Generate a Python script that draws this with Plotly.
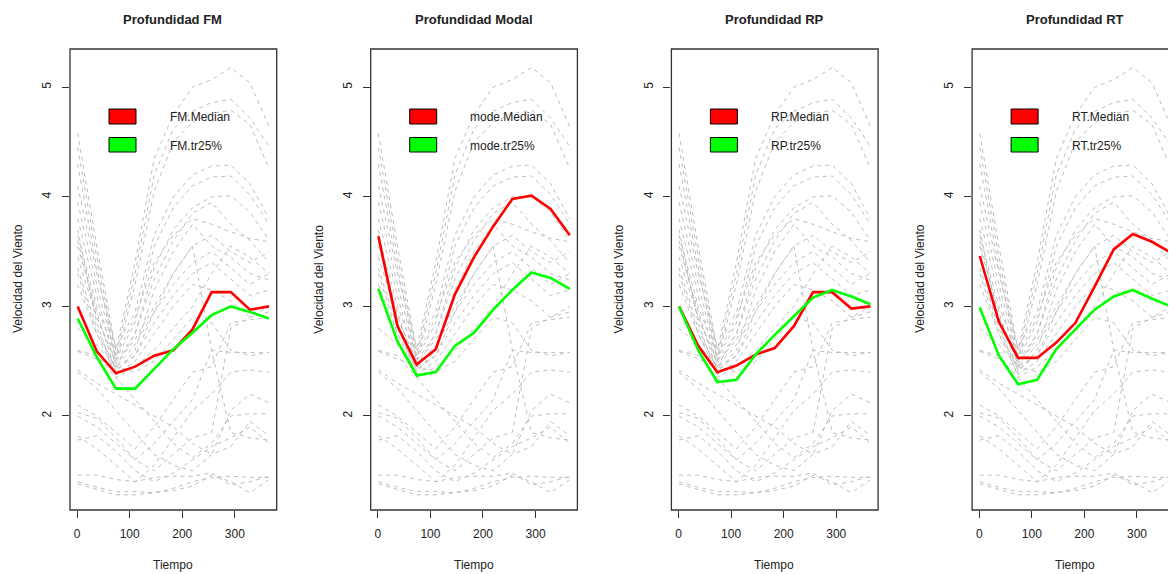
import plotly.graph_objects as go

# ---------------- data ----------------
tiempo = [1, 37.4, 73.8, 110.2, 146.6, 183.0, 219.4, 255.8, 292.2, 328.6, 365.0]

curvas_gris = [
    [4.58, 3.55, 2.60, 3.40, 4.35, 4.75, 5.00, 5.07, 5.18, 5.04, 4.64],
    [4.45, 3.45, 2.55, 3.30, 4.20, 4.62, 4.78, 4.86, 4.89, 4.72, 4.46],
    [4.30, 3.35, 2.50, 3.20, 4.05, 4.50, 4.68, 4.76, 4.79, 4.66, 4.26],
    [4.10, 3.30, 2.62, 2.95, 3.65, 4.00, 4.20, 4.28, 4.29, 4.12, 3.80],
    [3.95, 3.20, 2.52, 2.85, 3.55, 3.90, 4.10, 4.18, 4.19, 4.02, 3.75],
    [3.80, 3.10, 2.45, 2.75, 3.35, 3.70, 3.90, 4.00, 4.01, 3.86, 3.60],
    [3.65, 3.00, 2.55, 2.90, 3.40, 3.65, 3.80, 3.75, 3.68, 3.62, 3.59],
    [3.55, 2.95, 2.40, 2.60, 3.15, 3.50, 3.75, 3.55, 3.45, 3.30, 3.24],
    [3.45, 2.90, 2.48, 2.70, 3.00, 3.30, 3.55, 3.65, 3.50, 3.40, 3.50],
    [3.35, 2.80, 2.42, 2.55, 2.85, 3.10, 3.30, 3.40, 3.25, 3.10, 3.15],
    [3.20, 2.75, 2.38, 2.50, 2.75, 3.00, 3.20, 3.15, 3.05, 2.90, 3.00],
    [3.70, 2.85, 2.35, 2.45, 2.60, 2.80, 3.00, 3.30, 3.55, 3.45, 3.30],
    [3.60, 2.90, 2.50, 2.75, 3.25, 3.60, 3.85, 3.95, 3.75, 3.60, 3.40],
    [3.30, 2.75, 2.45, 2.65, 2.95, 3.20, 3.40, 3.50, 3.35, 3.20, 3.30],
    [2.80, 2.65, 2.45, 2.55, 2.95, 3.30, 3.55, 2.60, 1.85, 1.80, 1.78],
    [2.59, 2.52, 2.45, 2.40, 2.50, 2.70, 2.90, 2.85, 2.60, 2.55, 2.58],
    [2.42, 2.30, 2.20, 2.10, 2.00, 1.90, 1.75, 1.65, 2.05, 2.20, 2.12],
    [2.10, 2.00, 1.85, 1.70, 1.90, 2.15, 2.40, 2.45, 2.85, 2.88, 2.90],
    [2.03, 1.98, 1.80, 1.60, 1.50, 1.65, 1.80, 1.85, 2.80, 2.90, 2.95],
    [1.82, 1.70, 1.55, 1.40, 1.55, 1.80, 2.05, 2.20, 2.40, 2.42, 2.40],
    [1.78, 1.82, 1.68, 1.50, 1.40, 1.48, 1.60, 1.72, 1.80, 1.90, 1.75],
    [2.60, 2.55, 2.35, 2.15, 1.95, 1.75, 1.62, 1.75, 2.00, 2.02, 2.02],
    [2.40, 2.25, 2.05, 1.85, 1.65, 1.55, 1.50, 1.65, 1.72, 1.95, 1.82],
    [2.00, 1.90, 1.75, 1.60, 1.75, 1.95, 2.15, 2.60, 2.58, 2.58, 2.58],
    [1.46, 1.46, 1.42, 1.40, 1.44, 1.45, 1.45, 1.48, 1.37, 1.40, 1.45],
    [1.40, 1.35, 1.31, 1.31, 1.30, 1.32, 1.36, 1.46, 1.40, 1.30, 1.42],
    [1.38, 1.33, 1.28, 1.28, 1.30, 1.34, 1.40, 1.44, 1.45, 1.44, 1.44],
]

fm_median   = [3.00, 2.59, 2.39, 2.45, 2.55, 2.60, 2.79, 3.13, 3.13, 2.97, 3.00]
fm_tr25     = [2.89, 2.54, 2.25, 2.25, 2.43, 2.61, 2.76, 2.92, 3.00, 2.95, 2.89]
mode_median = [3.64, 2.82, 2.47, 2.61, 3.11, 3.45, 3.73, 3.98, 4.01, 3.89, 3.65]
mode_tr25   = [3.16, 2.68, 2.37, 2.40, 2.64, 2.76, 2.97, 3.15, 3.31, 3.26, 3.16]
rp_median   = [3.00, 2.64, 2.40, 2.46, 2.56, 2.62, 2.82, 3.13, 3.13, 2.98, 3.00]
rp_tr25     = [3.00, 2.60, 2.31, 2.33, 2.56, 2.74, 2.91, 3.08, 3.15, 3.09, 3.02]
rt_median   = [3.46, 2.86, 2.53, 2.53, 2.67, 2.85, 3.18, 3.52, 3.66, 3.59, 3.49]
rt_tr25     = [2.99, 2.55, 2.29, 2.33, 2.61, 2.79, 2.97, 3.09, 3.15, 3.07, 3.00]

titulos = ["Profundidad FM", "Profundidad Modal", "Profundidad RP", "Profundidad RT"]
prefijos = ["FM", "mode", "RP", "RT"]
medianas = [fm_median, mode_median, rp_median, rt_median]
recortadas = [fm_tr25, mode_tr25, rp_tr25, rt_tr25]
x_ticks = [0, 100, 200, 300]
y_ticks = [2, 3, 4, 5]

# ---------------- layout geometry (window pixels) ----------------
OFF = 8  # page body margin: figure is drawn starting at (8, 8)
W, H = 1176 - OFF, 574 - OFF
BOX_L0, BOX_W, STEP = 70.0 - OFF, 206.7, 300.7
BOX_T, BOX_B = 49.0 - OFF, 510.0 - OFF
XR = [-13.56, 379.56]
YR = [1.142, 5.349]
FONT = "Liberation Sans, Arial, sans-serif"
TXT = "#222222"

fig = go.Figure()
shapes, annotations = [], []

for k in range(4):
    left = BOX_L0 + STEP * k
    right = left + BOX_W
    xr = list(XR)
    if right > W:
        xr[1] = XR[0] + (W - left) * (XR[1] - XR[0]) / BOX_W
        dom_r = 1.0
    else:
        dom_r = right / W
    xs = "x" if k == 0 else f"x{k+1}"
    ys = "y" if k == 0 else f"y{k+1}"
    xname = "xaxis" if k == 0 else f"xaxis{k+1}"
    yname = "yaxis" if k == 0 else f"yaxis{k+1}"

    for c in curvas_gris:
        fig.add_trace(go.Scatter(x=tiempo, y=c, mode="lines", xaxis=xs, yaxis=ys,
                                 line=dict(color="#BEBEBE", width=1, dash="4px,4px"),
                                 showlegend=False, hoverinfo="skip"))
    fig.add_trace(go.Scatter(x=tiempo, y=medianas[k], mode="lines", xaxis=xs, yaxis=ys,
                             line=dict(color="#FF0000", width=2.6), showlegend=False))
    fig.add_trace(go.Scatter(x=tiempo, y=recortadas[k], mode="lines", xaxis=xs, yaxis=ys,
                             line=dict(color="#00FF00", width=2.6), showlegend=False))

    fig.layout[xname] = dict(domain=[left / W, dom_r], range=xr, anchor=ys,
                             tickvals=x_ticks, ticks="outside", ticklen=7, tickcolor="#333333",
                             showgrid=False, zeroline=False, showline=False,
                             ticklabelstandoff=6,
                             tickfont=dict(family=FONT, size=12, color=TXT))
    fig.layout[yname] = dict(domain=[1 - BOX_B / H, 1 - BOX_T / H], range=YR, anchor=xs,
                             tickvals=y_ticks, ticks="outside", ticklen=7, tickcolor="#333333",
                             tickangle=-90, showgrid=False, zeroline=False, showline=False,
                             ticklabelstandoff=6,
                             tickfont=dict(family=FONT, size=12, color=TXT))

    # box
    shapes.append(dict(type="rect", xref="paper", yref="paper",
                       x0=left / W, x1=right / W, y0=1 - BOX_B / H, y1=1 - BOX_T / H,
                       line=dict(color="#333333", width=1.3), fillcolor="rgba(0,0,0,0)"))
    # legend boxes
    for (yt, yb, col) in [(109, 124, "#FF0000"), (137.5, 152, "#00FF00")]:
        shapes.append(dict(type="rect", xref="paper", yref="paper",
                           x0=(left + 39) / W, x1=(left + 66) / W,
                           y0=1 - (yb - OFF) / H, y1=1 - (yt - OFF) / H,
                           line=dict(color="#000000", width=1), fillcolor=col))
    annotations.append(dict(text=f"{prefijos[k]}.Median", xref="paper", yref="paper",
                            x=(left + 97.5) / W, y=1 - (117.3 - OFF) / H, xanchor="left", yanchor="middle",
                            showarrow=False, font=dict(family=FONT, size=12, color=TXT)))
    annotations.append(dict(text=f"{prefijos[k]}.tr25%", xref="paper", yref="paper",
                            x=(left + 97.5) / W, y=1 - (146.5 - OFF) / H, xanchor="left", yanchor="middle",
                            showarrow=False, font=dict(family=FONT, size=12, color=TXT)))
    # title
    annotations.append(dict(text=f"<b>{titulos[k]}</b>", xref="paper", yref="paper",
                            x=(left + BOX_W / 2 - 0.5) / W, y=1 - (19.5 - OFF) / H,
                            xanchor="center", yanchor="middle", showarrow=False,
                            font=dict(family=FONT, size=13, color=TXT)))
    # axis titles
    annotations.append(dict(text="Tiempo", xref="paper", yref="paper",
                            x=(left + BOX_W / 2 - 0.5) / W, y=1 - (565 - OFF) / H,
                            xanchor="center", yanchor="middle", showarrow=False,
                            font=dict(family=FONT, size=12, color=TXT)))
    annotations.append(dict(text="Velocidad del Viento", xref="paper", yref="paper",
                            x=(left - 52) / W, y=1 - (279 - OFF) / H, textangle=-90,
                            xanchor="center", yanchor="middle", showarrow=False,
                            font=dict(family=FONT, size=12, color=TXT)))

fig.update_layout(width=W, height=H, margin=dict(l=0, r=0, t=0, b=0),
                  paper_bgcolor="white", plot_bgcolor="white",
                  shapes=shapes, annotations=annotations, showlegend=False)

fig.write_html("out.html")
